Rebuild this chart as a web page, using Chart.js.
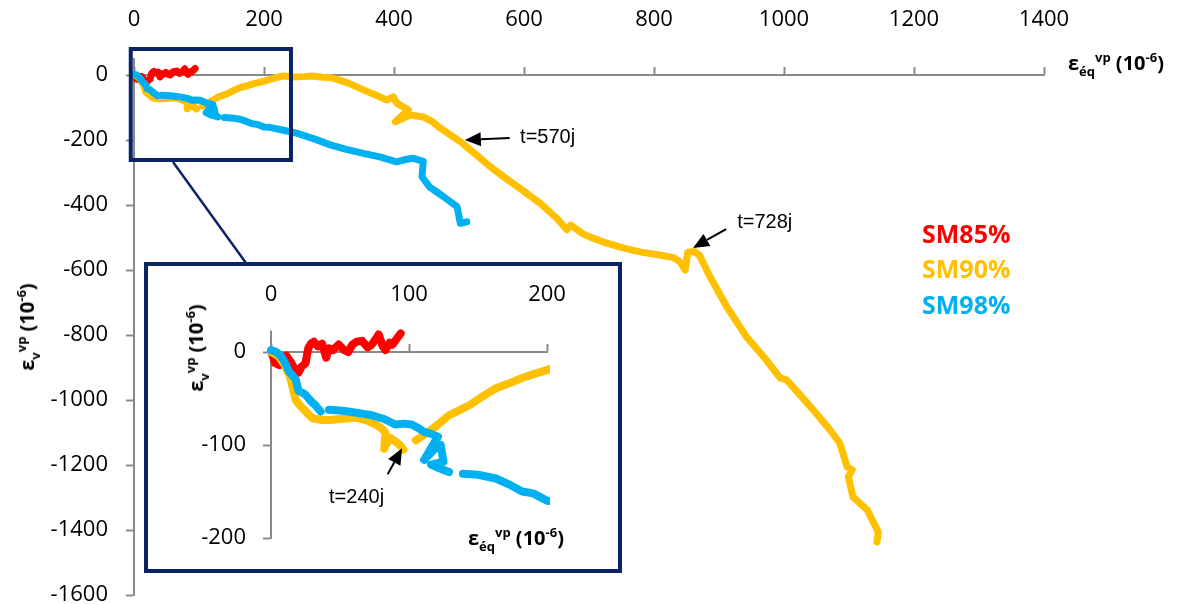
<!DOCTYPE html>
<html>
<head>
<meta charset="utf-8">
<script src="https://cdn.jsdelivr.net/npm/chart.js@4.4.1/dist/chart.umd.min.js"></script>
<style>
html, body { margin: 0; padding: 0; background: #fff; }
#wrap { position: relative; width: 1191px; height: 604px; font-family: "Open Sans", sans-serif; color: #000; }
#mainChart { position: absolute; left: 0; top: 0; }
#inset { position: absolute; left: 144px; top: 262px; width: 470px; height: 303px; border: 4px solid #0a2463; background: #fff; }
#inset canvas { position: absolute; left: 0; top: 0; }
.ttl { position: absolute; font-weight: bold; font-size: 20px; line-height: 20px; white-space: nowrap; }
.ttl sub { font-size: 65%; vertical-align: -0.45em; line-height: 0; }
.ttl sup { font-size: 65%; vertical-align: 0.65em; line-height: 0; }
.rot { transform: translate(-50%, -50%) rotate(-90deg); }
.leg { position: absolute; left: 922px; font-weight: bold; font-size: 25px; line-height: 25px; }
</style>
</head>
<body>
<div id="wrap">
  <canvas id="mainChart" width="1191" height="604"></canvas>
  <div class="ttl" style="left:1068px; top:53px;">ε<sub>éq</sub><sup>vp</sup> (10<sup>-6</sup>)</div>
  <div class="ttl rot" style="left:27px; top:327px;">ε<sub>v</sub><sup>vp</sup> (10<sup>-6</sup>)</div>
  <div class="leg" style="top:221px; color:#FF0000;">SM85%</div>
  <div class="leg" style="top:256px; color:#FFC000;">SM90%</div>
  <div class="leg" style="top:292px; color:#00B0F0;">SM98%</div>
  <div id="inset">
    <canvas id="zoomChart" width="470" height="303"></canvas>
    <div class="ttl rot" style="left:48px; top:82px;">ε<sub>v</sub><sup>vp</sup> (10<sup>-6</sup>)</div>
    <div class="ttl" style="left:320px; top:262px;">ε<sub>éq</sub><sup>vp</sup> (10<sup>-6</sup>)</div>
  </div>
</div>
<script>
// values, in 10^-6
const sm85X = [0, 1, 3, 6, 9, 11, 14, 17, 20, 22, 25, 27, 29, 31, 34, 37, 40, 42, 45, 49, 53, 56, 59, 62, 66, 70, 73, 76, 78, 81, 83, 86, 88, 91, 94];
const sm85Y = [0, -3, -12, -14, -6, -4, -10, -18, -22, -16, -12, 4, 9, 11, 6, 9, -6, 4, 2, 8, 2, 0, 8, 11, 12, 5, 8, 14, 19, 6, 2, 10, 8, 14, 20];

const sm90X = [0, 5, 10, 14, 16, 18, 22, 25, 30, 36, 42, 50, 58, 64, 70, 76, 80, 83, 82, 86, 90, 94, 96, null,
  105, 110, 114, 121, 129, 136, 144, 152, 163, 172, 182, 192, 201, 215, 229, 245, 260, 275, 290, 302, 315, 330,
  352, 370, 389, 399, 404, 422, 402, 425, 445, 460, 471, 487, 502, 525, 548, 570, 600, 625, 650, 666, 672, 690,
  701, 725, 752, 780, 809, 830, 840, 848, 852, 862, 870, 886, 912, 942, 970, 994, 1004, 1025, 1045, 1068, 1086,
  1097, 1105, 1099, 1106, 1128, 1145, 1143];
const sm90Y = [0, -4, -14, -28, -40, -52, -59, -64, -71, -73, -73, -72, -71, -71, -74, -78, -82, -87, -104, -92, -96, -101, -105, null,
  -95, -90, -86, -78, -68, -63, -57, -49, -39, -34, -28, -23, -19, -10, -3, -6, -5, -3, -7, -8, -15, -25,
  -45, -60, -77, -67, -86, -108, -144, -123, -129, -145, -163, -185, -205, -243, -282, -315, -358, -395, -440, -476, -462, -488,
  -498, -516, -532, -545, -554, -562, -575, -600, -545, -543, -555, -620, -713, -805, -870, -932, -938, -985, -1031, -1085, -1133,
  -1206, -1215, -1236, -1298, -1338, -1406, -1437];

const sm98X = [0, 4, 8, 11, 13, 16, 18, 20, 23, 25, 29, 32, 36, null, 42, 50, 56, 65, 73, 82, 90, 96, 102, 107, 111, 116, 121,
  111, 118, 123, 125, 116, 122, 129, null, 139, 150, 163, 172, 182, 190, 200, 209, 230, 250, 275, 302, 325, 353, 378,
  404, 418, 429, 445, 443, 455, 466, 480, 497, 502, 512];
const sm98Y = [2, 0, -6, -14, -21, -26, -30, -42, -44, -46, -53, -57, -64, null, -62, -63, -64, -66, -68, -72, -78, -77, -78, -82, -86, -88, -91,
  -116, -105, -100, -118, -121, -125, -129, null, -131, -132, -136, -142, -150, -152, -160, -161, -170, -179, -195, -215, -228, -241, -252,
  -267, -260, -256, -266, -313, -345, -360, -380, -405, -456, -452];

const mainXTicks = { min: 0, max: 1400, step: 200 };
const mainYTicks = { min: -1600, max: 0, step: 200 };
const zoomXTicks = { min: 0, max: 200, step: 100 };
const zoomYTicks = { min: -200, max: 0, step: 100 };

const RED = "#FF0000", GOLD = "#FFC000", BLUE = "#00B0F0", NAVY = "#0a2463", AXIS = "#8a8a8a";

Chart.defaults.font.family = "'Open Sans', sans-serif";
Chart.defaults.color = "#000";

function toPoints(xs, ys) {
    return xs.map((x, i) => ({ x: x, y: ys[i] }));
}

function makeDatasets(width, clip) {
    const base = { pointRadius: 0, showLine: true, borderWidth: width, borderJoinStyle: "round",
                   borderCapStyle: "round", spanGaps: false, clip: clip };
    // first dataset is painted last, so blue sits on top like in the picture
    return [
        Object.assign({ label: "SM98%", data: toPoints(sm98X, sm98Y), borderColor: BLUE }, base),
        Object.assign({ label: "SM90%", data: toPoints(sm90X, sm90Y), borderColor: GOLD }, base),
        Object.assign({ label: "SM85%", data: toPoints(sm85X, sm85Y), borderColor: RED }, base)
    ];
}

function axisOptions(t, opts) {
    return {
        type: "linear", min: t.min, max: t.max,
        position: opts.position,
        ticks: { stepSize: t.step, padding: opts.padding, font: { size: 22 }, callback: v => String(v) },
        grid: { drawOnChartArea: false, tickLength: 8, tickColor: AXIS, tickWidth: 2 },
        border: { color: AXIS, width: 2 },
        afterFit: opts.fit
    };
}

function drawArrow(ctx, x1, y1, x2, y2) {
    const ang = Math.atan2(y2 - y1, x2 - x1);
    const head = 16, half = 7;
    const bx = x2 - head * Math.cos(ang), by = y2 - head * Math.sin(ang);
    ctx.beginPath();
    ctx.moveTo(x1, y1);
    ctx.lineTo(bx, by);
    ctx.stroke();
    ctx.beginPath();
    ctx.moveTo(x2, y2);
    ctx.lineTo(bx + half * Math.sin(ang), by - half * Math.cos(ang));
    ctx.lineTo(bx - half * Math.sin(ang), by + half * Math.cos(ang));
    ctx.closePath();
    ctx.fill();
}

// extras drawn in data units: y axis stub above 0, zoom frame, arrows
const decor = {
    id: "decor",
    beforeDatasetsDraw(chart, args, o) {
        const { ctx, scales: { x, y } } = chart;
        ctx.save();
        ctx.strokeStyle = AXIS;
        ctx.lineWidth = 2;
        ctx.beginPath();
        ctx.moveTo(chart.chartArea.left, y.getPixelForValue(0));
        ctx.lineTo(chart.chartArea.left, y.getPixelForValue(o.axisTop));
        ctx.stroke();
        ctx.restore();
    },
    afterDatasetsDraw(chart, args, o) {
        const { ctx, scales: { x, y } } = chart;
        const px = v => x.getPixelForValue(v), py = v => y.getPixelForValue(v);
        ctx.save();
        if (o.box) {
            ctx.strokeStyle = NAVY;
            ctx.lineWidth = 4;
            const b = o.box;
            ctx.strokeRect(px(b.x0), py(b.y0), px(b.x1) - px(b.x0), py(b.y1) - py(b.y0));
            ctx.lineWidth = 2.5;
            ctx.beginPath();
            ctx.moveTo(px(b.link[0]), py(b.link[1]));
            ctx.lineTo(px(b.link[2]), py(b.link[3]));
            ctx.stroke();
        }
        ctx.strokeStyle = "#000";
        ctx.fillStyle = "#000";
        ctx.lineWidth = 2;
        ctx.font = "20px 'Liberation Sans', Arial, sans-serif";
        ctx.textBaseline = "middle";
        o.notes.forEach(n => {
            drawArrow(ctx, px(n.tail[0]), py(n.tail[1]), px(n.tip[0]), py(n.tip[1]));
            ctx.textAlign = n.align;
            ctx.fillText(n.text, px(n.at[0]), py(n.at[1]));
        });
        ctx.restore();
    }
};

new Chart(document.getElementById("mainChart"), {
    type: "scatter",
    data: { datasets: makeDatasets(7, false) },
    plugins: [decor],
    options: {
        responsive: false,
        animation: false,
        layout: { padding: { left: 0, top: 0, right: 147, bottom: 9 } },
        plugins: {
            legend: { display: false },
            tooltip: { enabled: false },
            decor: {
                axisTop: 52,
                box: { x0: -5, y0: 80, x1: 241.5, y1: -261.5, link: [60, -268, 172, -578] },
                notes: [
                    { text: "t=570j", tip: [509, -200], tail: [578, -194], at: [594, -191], align: "left" },
                    { text: "t=728j", tip: [860, -532], tail: [911, -474], at: [928, -455], align: "left" }
                ]
            }
        },
        scales: {
            x: axisOptions(mainXTicks, { position: "top", padding: 34,
                fit: s => { s.height = 75; s.paddingLeft = 0; s.paddingRight = 0; } }),
            y: axisOptions(mainYTicks, { position: "left", padding: 18,
                fit: s => { s.width = 134; s.paddingTop = 0; s.paddingBottom = 0; } })
        }
    }
});

new Chart(document.getElementById("zoomChart"), {
    type: "scatter",
    data: { datasets: makeDatasets(8, { left: 4, top: 40, right: 3, bottom: 4 }) },
    plugins: [decor],
    options: {
        responsive: false,
        animation: false,
        layout: { padding: { left: 0, top: 0, right: 71, bottom: 31 } },
        plugins: {
            legend: { display: false },
            tooltip: { enabled: false },
            decor: {
                axisTop: 23,
                notes: [
                    { text: "t=240j", tip: [95, -103.6], tail: [84.5, -131.6], at: [62, -156], align: "center" }
                ]
            }
        },
        scales: {
            x: axisOptions(zoomXTicks, { position: "top", padding: 36,
                fit: s => { s.height = 86; s.paddingLeft = 0; s.paddingRight = 0; } }),
            y: axisOptions(zoomYTicks, { position: "left", padding: 17,
                fit: s => { s.width = 123; s.paddingTop = 0; s.paddingBottom = 0; } })
        }
    }
});
</script>
</body>
</html>
